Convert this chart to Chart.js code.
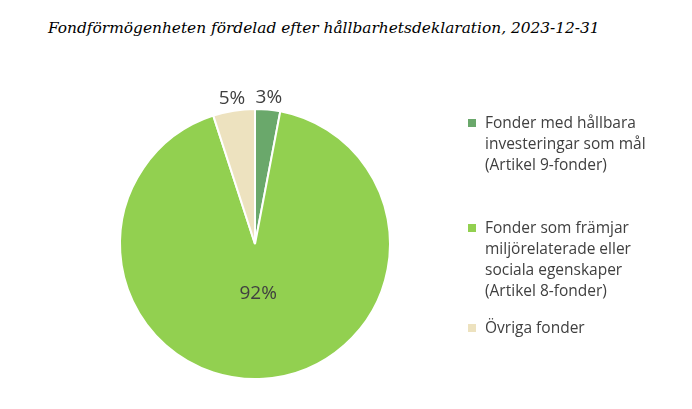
<!DOCTYPE html>
<html><head><meta charset="utf-8">
<script src="https://cdn.jsdelivr.net/npm/chart.js@4"></script>
<style>
body{margin:0;background:#fff;width:692px;height:409px;overflow:hidden;position:relative;font-family:"Open Sans",sans-serif}
#title{position:absolute;left:48px;top:19px;font-family:"DejaVu Serif",serif;font-style:italic;font-size:15.4px;color:#000}
#wrap{position:absolute;left:0;top:0;width:692px;height:409px}
#legend{position:absolute;left:468px;top:112px;font-size:15.5px;color:#404040;line-height:21px}
.item{position:relative;padding-left:17px}
.sw{position:absolute;left:0;top:7px;width:8px;height:8px}
</style></head><body>
<div id="title">Fondförmögenheten fördelad efter hållbarhetsdeklaration, 2023-12-31</div>
<div id="wrap"><canvas id="c"></canvas></div>
<div id="legend"></div>
<script>
const categories = [
  ['Fonder med hållbara', 'investeringar som mål', '(Artikel 9-fonder)'],
  ['Fonder som främjar', 'miljörelaterade eller', 'sociala egenskaper', '(Artikel 8-fonder)'],
  ['Övriga fonder']
];
const shares = [3, 92, 5];
const colors = ['#6aa86b', '#92d050', '#ede2bf'];

// percentage labels on/around the slices
const sliceLabels = {
  id: 'sliceLabels',
  afterDatasetsDraw(chart) {
    const ctx = chart.ctx;
    const arcs = chart.getDatasetMeta(0).data;
    ctx.save();
    ctx.font = '19px "Open Sans"';
    ctx.fillStyle = '#404040';
    ctx.textAlign = 'center';
    ctx.textBaseline = 'middle';
    arcs.forEach((arc, i) => {
      const p = arc.getProps(['x', 'y', 'startAngle', 'endAngle', 'outerRadius']);
      const mid = (p.startAngle + p.endAngle) / 2;
      const r = shares[i] < 10 ? p.outerRadius * 1.09 : p.outerRadius * 0.37;
      ctx.fillText(shares[i] + '%', p.x + Math.cos(mid) * r, p.y + Math.sin(mid) * r);
    });
    ctx.restore();
  }
};

new Chart(document.getElementById('c'), {
  type: 'pie',
  data: {
    labels: categories.map(l => l.join(' ')),
    datasets: [{ data: shares, backgroundColor: colors, borderColor: '#fff', borderWidth: 2 }]
  },
  options: {
    responsive: true,
    maintainAspectRatio: false,
    animation: false,
    layout: { padding: { left: 119, right: 301, top: 108, bottom: 29 } },
    plugins: { legend: { display: false }, tooltip: { enabled: false } }
  },
  plugins: [sliceLabels]
});

const gaps = [42, 16, 0];
const legend = document.getElementById('legend');
categories.forEach((lines, i) => {
  const d = document.createElement('div');
  d.className = 'item';
  d.style.marginBottom = gaps[i] + 'px';
  d.innerHTML = '<span class="sw" style="background:' + colors[i] + '"></span>' + lines.join('<br>');
  legend.appendChild(d);
});
</script>
</body></html>
